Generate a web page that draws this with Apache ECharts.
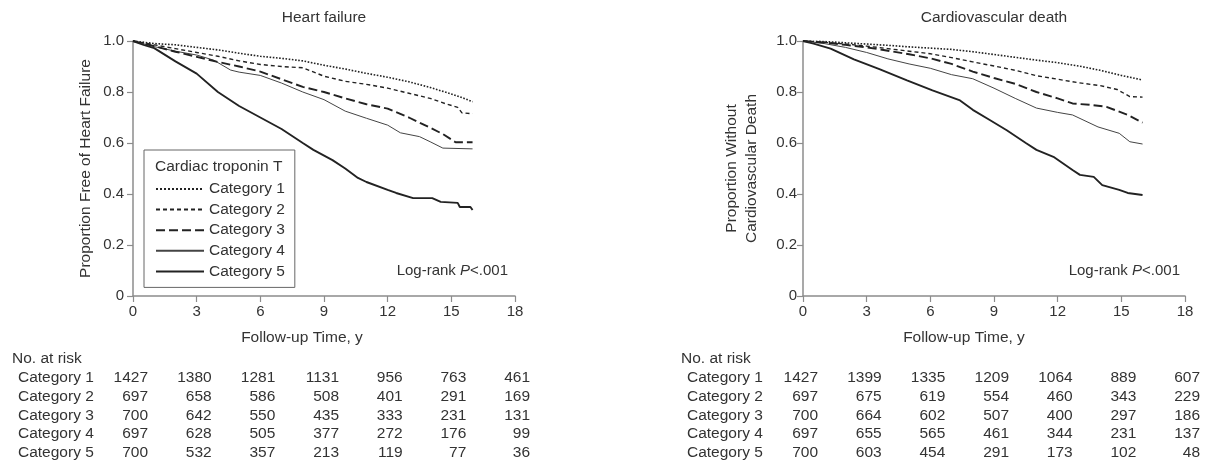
<!DOCTYPE html>
<html>
<head>
<meta charset="utf-8">
<script src="https://cdn.jsdelivr.net/npm/echarts@6/dist/echarts.min.js"></script>
<style>
  html, body { margin: 0; padding: 0; background: #fff; }
  #main { width: 1212px; height: 463px; }
</style>
</head>
<body>
<div id="main"></div>
<script>
// categories
var categories = ["Category 1", "Category 2", "Category 3", "Category 4", "Category 5"];
var riskTimes = [0, 3, 6, 9, 12, 15, 18];

// Heart failure curves, [years, proportion]
var hf1 = [[0,1],[1,0.99],[2,0.985],[3,0.975],[4,0.965],[5,0.952],[6,0.94],[7,0.932],[8,0.922],[9,0.905],[10,0.89],[11,0.873],[12,0.858],[13,0.84],[14,0.818],[15,0.792],[15.6,0.775],[16,0.762]];
var hf2 = [[0,1],[1,0.985],[2,0.97],[3,0.955],[4,0.94],[5,0.922],[6,0.908],[7,0.9],[8,0.895],[9,0.862],[10,0.842],[11,0.83],[12,0.815],[13,0.795],[14,0.775],[14.8,0.752],[15.3,0.74],[15.5,0.718],[16,0.715]];
var hf3 = [[0,1],[1,0.98],[2,0.958],[3,0.938],[4,0.918],[5,0.9],[6,0.88],[7,0.85],[8,0.82],[9,0.8],[10,0.775],[11,0.752],[12,0.735],[13,0.7],[14,0.66],[14.6,0.635],[15.2,0.603],[16,0.603]];
var hf4 = [[0,1],[1,0.978],[2,0.96],[3,0.945],[3.8,0.925],[4.6,0.886],[5,0.878],[6,0.865],[7,0.835],[8,0.8],[9,0.77],[10,0.725],[11,0.697],[12,0.67],[12.6,0.64],[13.5,0.625],[14,0.605],[14.6,0.58],[16,0.577]];
var hf5 = [[0,1],[0.5,0.985],[1,0.972],[2,0.92],[3,0.872],[4,0.8],[5,0.745],[6,0.7],[7,0.655],[8,0.6],[8.5,0.573],[9.4,0.533],[10,0.5],[10.6,0.463],[11,0.447],[12,0.416],[12.4,0.404],[13.2,0.384],[14.1,0.384],[14.5,0.369],[15.3,0.365],[15.4,0.349],[15.9,0.349],[16,0.337]];

// Cardiovascular death curves
var cv1 = [[0,1],[1,0.998],[2,0.993],[3,0.988],[4,0.983],[5,0.977],[6,0.972],[7,0.967],[8,0.958],[9,0.947],[10,0.936],[11,0.925],[12,0.915],[13,0.902],[14,0.885],[15,0.865],[16,0.847]];
var cv2 = [[0,1],[1,0.995],[2,0.988],[3,0.98],[4,0.97],[5,0.96],[6,0.95],[7,0.935],[8,0.918],[9,0.902],[10,0.885],[11,0.864],[12,0.85],[13,0.836],[14,0.825],[14.8,0.81],[15.4,0.782],[16,0.78]];
var cv3 = [[0,1],[1,0.994],[2,0.985],[3,0.975],[4,0.962],[5,0.948],[6,0.932],[7,0.91],[8,0.88],[9,0.855],[10,0.832],[11,0.8],[12,0.775],[12.7,0.755],[13.5,0.75],[14.3,0.742],[15.3,0.71],[16,0.68]];
var cv4 = [[0,1],[1,0.99],[2,0.975],[3,0.955],[4,0.93],[5,0.91],[6,0.893],[7,0.868],[8,0.852],[9,0.815],[10,0.775],[11,0.737],[12,0.72],[12.7,0.71],[13.9,0.663],[14.9,0.638],[15.4,0.605],[16,0.596]];
var cv5 = [[0,1],[0.5,0.99],[1.3,0.97],[2.4,0.928],[3.6,0.89],[4.9,0.846],[6.1,0.806],[7.4,0.767],[8,0.73],[8.8,0.69],[9.6,0.65],[10.5,0.6],[11,0.573],[11.8,0.546],[12.7,0.494],[13.05,0.475],[13.7,0.467],[14.1,0.435],[14.9,0.416],[15.3,0.404],[16,0.396]];

// numbers at risk
var hfRisk = [
  [1427, 1380, 1281, 1131, 956, 763, 461],
  [697, 658, 586, 508, 401, 291, 169],
  [700, 642, 550, 435, 333, 231, 131],
  [697, 628, 505, 377, 272, 176, 99],
  [700, 532, 357, 213, 119, 77, 36]
];
var cvRisk = [
  [1427, 1399, 1335, 1209, 1064, 889, 607],
  [697, 675, 619, 554, 460, 343, 229],
  [700, 664, 602, 507, 400, 297, 186],
  [697, 655, 565, 461, 344, 231, 137],
  [700, 603, 454, 291, 173, 102, 48]
];

var FONT = "Liberation Sans";
var TXT = "#333";
var AXC = "#8c8c8c";

var lineStyles = [
  { type: "dotted", width: 1.6, color: "#222" },
  { type: [4, 3], width: 1.4, color: "#222" },
  { type: [9, 4], width: 1.9, color: "#222" },
  { type: "solid", width: 1, color: "#444" },
  { type: "solid", width: 1.9, color: "#222" }
];

function plotX(idx) {
  return {
    gridIndex: idx, type: "value", min: 0, max: 18, interval: 3,
    name: "Follow-up Time, y", nameLocation: "middle", nameGap: 34,
    nameTextStyle: { fontFamily: FONT, fontSize: 15.5, color: TXT, padding: [0, idx == 0 ? 44 : 60, 0, 0] },
    axisLine: { lineStyle: { color: AXC, width: 1.5 } },
    axisTick: { length: 6, lineStyle: { color: AXC, width: 1.2 } },
    axisLabel: { margin: 8, fontFamily: FONT, fontSize: 15, color: TXT },
    splitLine: { show: false }
  };
}
function plotY(idx, name, gap, margin) {
  return {
    gridIndex: idx, type: "value", min: 0, max: 1, interval: 0.2,
    name: name, nameLocation: "middle", nameGap: gap,
    nameTextStyle: { fontFamily: FONT, fontSize: 15.5, color: TXT, lineHeight: 20 },
    axisLine: { show: true, lineStyle: { color: AXC, width: 1.5 } },
    axisTick: { show: true, length: 6, lineStyle: { color: AXC, width: 1.2 } },
    axisLabel: { margin: margin, fontFamily: FONT, fontSize: 15, color: TXT,
      formatter: function (v) { return v == 0 ? "0" : v.toFixed(1); } },
    splitLine: { show: false }
  };
}
function riskX(idx) {
  return { gridIndex: idx, type: "value", min: 0, max: 18, show: false };
}
function riskY(idx, margin) {
  return {
    gridIndex: idx, type: "category", data: categories, inverse: true, boundaryGap: false,
    axisLine: { show: false }, axisTick: { show: false },
    axisLabel: { interval: 0, align: "left", margin: margin, fontFamily: FONT, fontSize: 15.5, color: TXT }
  };
}

var series = [];
var hfCurves = [hf1, hf2, hf3, hf4, hf5];
var cvCurves = [cv1, cv2, cv3, cv4, cv5];
categories.forEach(function (name, i) {
  series.push({ name: name, type: "line", xAxisIndex: 0, yAxisIndex: 0, data: hfCurves[i],
    symbol: "none", lineStyle: lineStyles[i], itemStyle: { color: "#222" }, z: 5 - i });
});
categories.forEach(function (name, i) {
  series.push({ name: name, type: "line", xAxisIndex: 1, yAxisIndex: 1, data: cvCurves[i],
    symbol: "none", lineStyle: lineStyles[i], itemStyle: { color: "#222" }, z: 5 - i });
});

function riskData(tbl) {
  var out = [];
  tbl.forEach(function (row, i) {
    row.forEach(function (n, j) { out.push([riskTimes[j], categories[i], n]); });
  });
  return out;
}
[hfRisk, cvRisk].forEach(function (tbl, k) {
  series.push({
    type: "scatter", xAxisIndex: 2 + k, yAxisIndex: 2 + k, data: riskData(tbl),
    symbolSize: 1, itemStyle: { color: "rgba(0,0,0,0)" }, silent: true,
    label: { show: true, position: "inside", align: "right", offset: [15, 0],
      fontFamily: FONT, fontSize: 15.5, color: TXT, opacity: 1, textBorderWidth: 0,
      formatter: function (p) { return p.value[2]; } }
  });
});

var logRank = {
  text: "Log-rank {i|P}<.001",
  textStyle: { fontFamily: FONT, fontSize: 15, color: TXT, fontWeight: "normal",
    rich: { i: { fontFamily: FONT, fontSize: 15, color: TXT, fontStyle: "italic" } } }
};
function ttl(text, pos) {
  return Object.assign({ text: text, textStyle: { fontFamily: FONT, fontSize: 15.5, color: TXT, fontWeight: "normal" }, padding: 0 }, pos);
}

var chart = echarts.init(document.getElementById("main"), null, { renderer: "canvas" });
chart.setOption({
  animation: false,
  title: [
    ttl("Heart failure", { left: 324, top: 10, textAlign: "center" }),
    ttl("Cardiovascular death", { left: 994, top: 10, textAlign: "center" }),
    ttl("Cardiac troponin T", { left: 155, top: 159 }),
    ttl("No. at risk", { left: 12, top: 351 }),
    ttl("No. at risk", { left: 681, top: 351 }),
    Object.assign({ right: 704, top: 263, padding: 0 }, logRank),
    Object.assign({ right: 32, top: 263, padding: 0 }, logRank)
  ],
  legend: {
    data: categories, orient: "vertical", left: 144, top: 150,
    padding: [31, 10, 8, 11], itemWidth: 48, itemHeight: 14, itemGap: 4.6,
    borderColor: "#666", borderWidth: 1, borderRadius: 0,
    itemStyle: { opacity: 0 },
    textStyle: { fontFamily: FONT, fontSize: 15.5, color: TXT }
  },
  grid: [
    { left: 133, top: 41, width: 382, height: 255 },
    { left: 803, top: 41, width: 382, height: 255 },
    { left: 133, top: 378, width: 382, height: 74.5 },
    { left: 803, top: 378, width: 382, height: 74.5 }
  ],
  xAxis: [plotX(0), plotX(1), riskX(2), riskX(3)],
  yAxis: [
    plotY(0, "Proportion Free of Heart Failure", 37, 9),
    plotY(1, "Proportion Without\nCardiovascular Death", 41, 6),
    riskY(2, 115), riskY(3, 116)
  ],
  series: series
});
</script>
</body>
</html>
